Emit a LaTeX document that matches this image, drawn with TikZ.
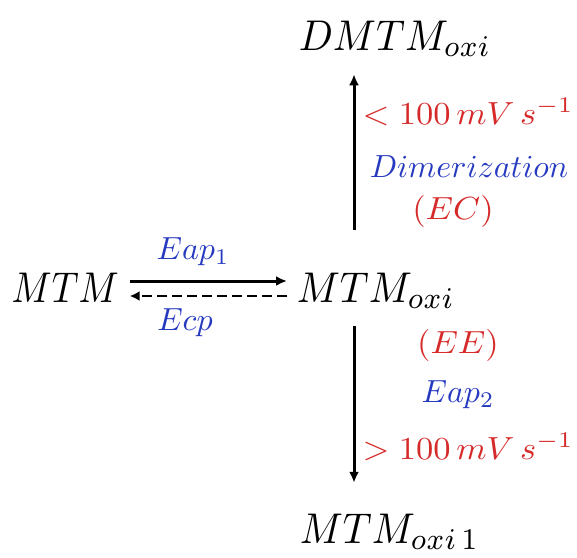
\documentclass[tikz,border=0pt]{standalone}
\usetikzlibrary{arrows.meta}
\definecolor{rateRed}{RGB}{214,42,42}
\definecolor{stepBlue}{RGB}{38,58,192}
\begin{document}
\begin{tikzpicture}[x=1pt,y=-1pt,
  species/.style={inner sep=0pt, xscale=4.0, yscale=4.3},
  steplbl/.style={inner sep=0pt, text=stepBlue, scale=3.2},
  ratelbl/.style={inner sep=0pt, text=rateRed, xscale=3.45, yscale=3.2},
  fwd/.style={line width=3pt, -{Latex[length=11pt,width=10pt]}},
  back/.style={line width=2.8pt, dash pattern=on 10pt off 5pt, -{Latex[length=10pt,width=10pt]}}]
\useasboundingbox (0,0) rectangle (577,557);

% species
\node[species, xscale=0.93, anchor=base west] (mtm)  at (11,302)  {$MTM$};
\node[species, anchor=base west] (oxi)  at (296,302) {$MTM_{oxi}$};
\node[species, anchor=base west] (dmtm) at (298,50)  {$DMTM_{oxi}$};
\node[species, anchor=base west] (oxi1) at (299,543) {$MTM_{oxi\,1}$};

% anodic / cathodic pair between MTM and MTM_oxi
\path (mtm.east |- 0,281) coordinate (fs);
\path (mtm.east |- 0,296) coordinate (bs);
\draw[fwd, shorten <=10pt, shorten >=9pt] (fs) -- (fs -| oxi.west);
\draw[back, shorten <=9pt, shorten >=10pt] (bs -| oxi.west) -- (bs);

% vertical branches
\path ([xshift=58pt]oxi.west) coordinate (vx);
\draw[fwd, shorten <=42pt, shorten >=17pt] (vx |- oxi.north) -- (vx |- dmtm.south);
\draw[fwd, shorten <=17pt, shorten >=30pt] (vx |- oxi.south) -- (vx |- oxi1.north);

% labels
\node[steplbl] (eap1) at (193,252) {$Eap_1$};
\node[steplbl] (ecp)  at (185,323) {$Ecp$};
\node[ratelbl] (slow) at (468,112) {$<100\,mV\,s^{-1}$};
\node[steplbl] (dim)  at (469,167) {$Dimerization$};
\node[ratelbl] (ec)   at (453,211) {$(EC)$};
\node[ratelbl] (ee)   at (458,345) {$(EE)$};
\node[steplbl] (eap2) at (458,395) {$Eap_2$};
\node[ratelbl] (fast) at (468,447) {$>100\,mV\,s^{-1}$};
\end{tikzpicture}
\end{document}
